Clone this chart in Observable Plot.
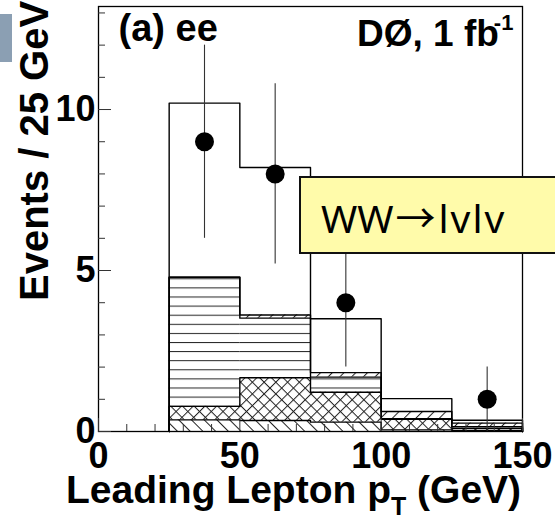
<!DOCTYPE html>
<html><head><meta charset="utf-8">
<script src="https://cdn.jsdelivr.net/npm/d3@7"></script>
<script src="https://cdn.jsdelivr.net/npm/@observablehq/plot@0.6"></script>
<style>
body{margin:0;background:#fff;}
#wrap{position:relative;width:555px;height:516px;overflow:hidden;background:#fff;}
#tab{position:absolute;left:0;top:14px;width:12px;height:48px;background:#8b9fb3;}
#box{position:absolute;left:299px;top:176px;width:280px;height:78px;box-sizing:border-box;background:#fffbaa;border:2px solid #111;}
#boxtxt{position:absolute;left:321px;top:196px;font-family:"Noto Sans",sans-serif;font-size:39px;line-height:1;color:#000;white-space:nowrap;}
#boxtxt .arr{font-family:"Noto Sans CJK JP",sans-serif;font-size:40px;margin:0 3px 0 2px;}
#boxtxt .lv{letter-spacing:2px;}
</style></head>
<body><div id="wrap"><div id="tab"></div></div>
<script>
// ---- data ----
const binEdges = [25, 50, 75, 100, 125, 150];          // Leading lepton pT bins (GeV)
const bkgDiag  = [0.36, 0.34, 0.29, 0.05, 0.03];       // "\\\" hatched background
const bkgCross = [0.42, 1.33, 0.93, 0.33, 0.07];       // cross-hatched background
const bkgHoriz = [4.01, 1.85, 0.47, 0.02, 0.05];       // horizontal-line background
const bkgSlash = [0.00, 0.10, 0.14, 0.22, 0.11];       // "///" hatched background
const totalMC  = [10.2, 8.2, 3.5, 1.02, 0.35];         // total expectation incl. WW
const dataX    = [37.5, 62.5, 87.5, 137.5];
const dataY    = [9, 8, 4, 1];
const dataLo   = [6.0, 5.2, 2.0, 0.0];
const dataHi   = [12.0, 10.8, 6.0, 2.0];
const yMajor = [0, 5, 10];
const yMinor = [1, 2, 3, 4, 6, 7, 8, 9, 11, 12, 13];
const xMajor = [0, 50, 100, 150];
const xMinor = [10, 20, 30, 40, 60, 70, 80, 90, 110, 120, 130, 140];

// ---- build stacked layers ----
const layers = [
  {vals: bkgDiag,  fill: "url(#pDiag)"},
  {vals: bkgCross, fill: "url(#pCross)"},
  {vals: bkgHoriz, fill: "url(#pHoriz)"},
  {vals: bkgSlash, fill: "url(#pSlash)"}
];
function stepPts(tops, id) {
  const pts = [{x: binEdges[0], y: 0, id}];
  tops.forEach((t, j) => { pts.push({x: binEdges[j], y: t, id}); pts.push({x: binEdges[j + 1], y: t, id}); });
  pts.push({x: binEdges[binEdges.length - 1], y: 0, id});
  return pts;
}
let cum = totalMC.map(() => 0);
const rectMarks = [];
const stepData = [];
layers.forEach((L, i) => {
  const lo = cum.slice();
  cum = cum.map((c, j) => c + L.vals[j]);
  const rows = lo.map((l, j) => ({x1: binEdges[j], x2: binEdges[j + 1], y1: l, y2: cum[j]}));
  rectMarks.push(Plot.rect(rows, {x1: "x1", x2: "x2", y1: "y1", y2: "y2", fill: L.fill, stroke: "none"}));
  stepData.push(...stepPts(cum.slice(), "L" + i));
});
stepData.push(...stepPts(totalMC, "total"));
const pts = dataX.map((x, i) => ({x, y: dataY[i], lo: dataLo[i], hi: dataHi[i]}));

const font = "'Liberation Sans', Arial, sans-serif";
const svg = Plot.plot({
  width: 555, height: 516,
  marginLeft: 98, marginRight: 33, marginTop: 6, marginBottom: 85,
  style: {fontFamily: font, background: "transparent"},
  x: {domain: [0, 150]},
  y: {domain: [0, 13.2]},
  marks: [
    ...rectMarks,
    Plot.line(stepData, {x: "x", y: "y", z: "id", stroke: "#000", strokeWidth: 1.4}),
    Plot.ruleX(pts, {x: "x", y1: "lo", y2: "hi", stroke: "#333", strokeWidth: 1.1}),
    Plot.dot(pts, {x: "x", y: "y", r: 9.5, fill: "#000", stroke: "none"}),
    Plot.frame({stroke: "#000", strokeWidth: 1.3}),
    Plot.axisY({ticks: yMinor, tickSize: -7, tickFormat: () => "", label: null, stroke: "#333"}),
    Plot.axisY({ticks: yMajor, tickSize: -13, tickPadding: 16, label: null, fontSize: 36, fontWeight: "bold", stroke: "#333", fill: "#000"}),
    Plot.axisX({ticks: xMinor, tickSize: -7, tickFormat: () => "", label: null, stroke: "#333"}),
    Plot.axisX({ticks: xMajor, tickSize: -13, tickPadding: 24, label: null, fontSize: 36, fontWeight: "bold", stroke: "#333", fill: "#000"}),
    Plot.text(["(a) ee"], {frameAnchor: "top-left", dx: 20, dy: 34, lineAnchor: "bottom", textAnchor: "start", fontSize: 38, fontWeight: "bold", fill: "#000"}),
    Plot.text(["Events / 25 GeV"], {frameAnchor: "left", dx: -63, dy: 82, rotate: -90, textAnchor: "start", lineAnchor: "middle", fontSize: 40, fontWeight: "bold", fill: "#000"})
  ]
});

svg.insertAdjacentHTML("afterbegin", `<defs>
<pattern id="pHoriz" patternUnits="userSpaceOnUse" x="0" y="5.3" width="10" height="9.1"><line x1="0" x2="10" y1="0.5" y2="0.5" stroke="#222" stroke-width="1"/></pattern>
<pattern id="pCross" patternUnits="userSpaceOnUse" width="8.3" height="8.3" patternTransform="rotate(45)"><line x1="0.5" x2="0.5" y1="0" y2="8.3" stroke="#222" stroke-width="1"/><line x1="0" x2="8.3" y1="0.5" y2="0.5" stroke="#222" stroke-width="1"/></pattern>
<pattern id="pDiag" patternUnits="userSpaceOnUse" width="9" height="9" patternTransform="rotate(-45)"><line x1="0.5" x2="0.5" y1="0" y2="9" stroke="#222" stroke-width="1"/></pattern>
<pattern id="pSlash" patternUnits="userSpaceOnUse" width="8.3" height="8.3" patternTransform="rotate(45)"><line x1="0.5" x2="0.5" y1="0" y2="8.3" stroke="#222" stroke-width="1"/></pattern>
</defs>`);

const s = d3.select(svg);
const dz = s.append("text").attr("x", 357).attr("y", 46).attr("text-anchor", "start").attr("font-size", 37).attr("font-weight", "bold").attr("font-family", font).attr("fill", "#000");
dz.append("tspan").text("DØ, 1 fb");
dz.append("tspan").attr("dx", -5).attr("dy", -16).attr("font-size", 22).text("-1");
const xl = s.append("text").attr("x", 66).attr("y", 503).attr("text-anchor", "start").attr("font-size", 39).attr("font-weight", "bold").attr("font-family", font).attr("fill", "#000");
xl.append("tspan").text("Leading Lepton p");
xl.append("tspan").attr("dy", 12).attr("font-size", 25).text("T");
xl.append("tspan").attr("dy", -12).text(" (GeV)");

svg.style.position = "absolute"; svg.style.left = "0"; svg.style.top = "0";
const wrap = document.getElementById("wrap");
wrap.insertBefore(svg, wrap.firstChild);
const box = document.createElement("div"); box.id = "box"; wrap.appendChild(box);
const bt = document.createElement("div"); bt.id = "boxtxt";
bt.innerHTML = 'WW<span class="arr">→</span><span class="lv">lvlv</span>';
wrap.appendChild(bt);
</script></body></html>
